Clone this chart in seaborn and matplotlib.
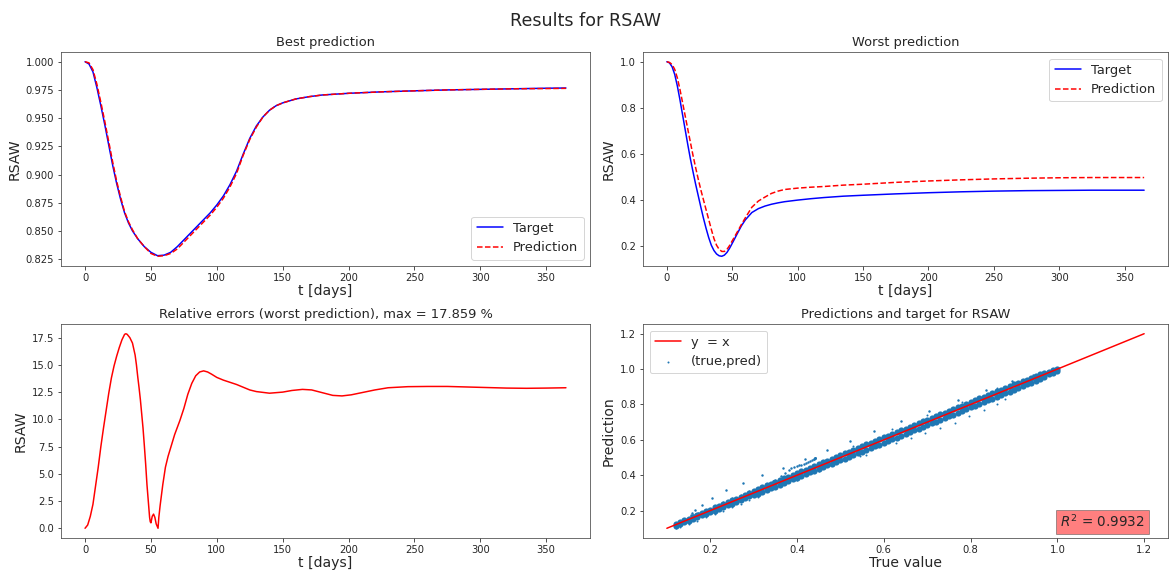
import matplotlib
matplotlib.use("Agg")
import matplotlib.pyplot as plt
import seaborn as sns

# ---------------- data ----------------
t_best = [0, 3, 6, 9, 12, 15, 18, 21, 24, 27, 30, 33, 36, 40, 45, 50, 55, 60, 65, 70,
          75, 80, 85, 90, 95, 100, 105, 110, 115, 120, 125, 130, 135, 140, 145, 150,
          160, 170, 180, 200, 225, 250, 275, 300, 325, 350, 365]
best_target = [1.000, 0.998, 0.991, 0.977, 0.961, 0.944, 0.926, 0.908, 0.892, 0.878,
               0.866, 0.857, 0.850, 0.843, 0.836, 0.831, 0.828, 0.8285, 0.831, 0.836,
               0.842, 0.848, 0.854, 0.860, 0.866, 0.873, 0.881, 0.891, 0.903, 0.918,
               0.932, 0.943, 0.951, 0.957, 0.961, 0.9635, 0.967, 0.969, 0.9705, 0.972,
               0.9733, 0.9742, 0.975, 0.9755, 0.976, 0.9765, 0.9767]
best_pred = [1.000, 0.999, 0.993, 0.980, 0.964, 0.947, 0.929, 0.911, 0.894, 0.880,
             0.867, 0.858, 0.851, 0.843, 0.836, 0.830, 0.8275, 0.828, 0.830, 0.834,
             0.840, 0.846, 0.852, 0.858, 0.864, 0.871, 0.879, 0.889, 0.901, 0.917,
             0.931, 0.942, 0.951, 0.957, 0.961, 0.9635, 0.967, 0.969, 0.9705, 0.972,
             0.9733, 0.9742, 0.975, 0.9755, 0.976, 0.9762, 0.9764]

t_worst = [0, 2, 4, 6, 8, 10, 12, 14, 16, 18, 20, 22, 24, 26, 28, 30, 32, 34, 36, 38,
           40, 42, 44, 46, 48, 51, 54, 57, 60, 65, 70, 75, 80, 85, 90, 100, 110, 120,
           135, 150, 175, 200, 225, 250, 275, 300, 325, 350, 365]
worst_target = [1.000, 0.995, 0.978, 0.945, 0.895, 0.835, 0.770, 0.705, 0.640, 0.578,
                0.522, 0.468, 0.418, 0.368, 0.320, 0.276, 0.236, 0.203, 0.180, 0.165,
                0.157, 0.155, 0.160, 0.172, 0.190, 0.222, 0.255, 0.287, 0.313, 0.345,
                0.362, 0.373, 0.381, 0.387, 0.392, 0.399, 0.405, 0.410, 0.416, 0.420,
                0.426, 0.431, 0.435, 0.438, 0.440, 0.441, 0.442, 0.442, 0.442]
worst_pred = [1.000, 0.997, 0.988, 0.967, 0.930, 0.880, 0.823, 0.765, 0.707, 0.650,
              0.593, 0.540, 0.490, 0.443, 0.400, 0.357, 0.315, 0.272, 0.232, 0.203,
              0.185, 0.176, 0.176, 0.185, 0.202, 0.232, 0.262, 0.293, 0.322, 0.368,
              0.395, 0.412, 0.428, 0.438, 0.445, 0.451, 0.455, 0.458, 0.464, 0.468,
              0.476, 0.482, 0.487, 0.491, 0.494, 0.496, 0.497, 0.497, 0.497]

t_err = [0, 2, 4, 6, 8, 10, 12, 14, 16, 18, 20, 22, 24, 26, 28, 30, 31, 32, 34, 36,
         38, 39, 40, 41, 42, 43, 44, 45, 46, 47, 48, 49, 49.5, 50, 51, 52, 53, 54,
         55.4, 56, 57, 59, 61, 63, 65, 68, 72, 75, 78, 81, 84, 87, 90, 93, 96, 100,
         105, 110, 115, 120, 125, 130, 140, 150, 157, 165, 172, 180, 188, 195, 202,
         210, 220, 230, 245, 260, 275, 290, 305, 320, 335, 350, 365]
rel_err = [0.0, 0.3, 1.1, 2.2, 3.9, 5.6, 7.5, 9.2, 10.8, 12.4, 13.8, 14.9, 15.8, 16.6,
           17.3, 17.8, 17.86, 17.8, 17.5, 17.0, 15.9, 15.0, 13.9, 12.9, 11.8, 10.5,
           9.2, 7.6, 5.9, 4.0, 2.5, 1.0, 0.6, 0.5, 1.1, 1.3, 1.0, 0.4, 0.0, 1.0, 2.1,
           4.0, 5.6, 6.6, 7.4, 8.6, 9.9, 11.0, 12.3, 13.3, 14.0, 14.35, 14.45, 14.35,
           14.15, 13.85, 13.6, 13.4, 13.2, 12.95, 12.7, 12.55, 12.4, 12.5, 12.65,
           12.75, 12.7, 12.45, 12.2, 12.15, 12.25, 12.45, 12.7, 12.9, 13.0, 13.02,
           13.02, 12.97, 12.92, 12.87, 12.85, 12.87, 12.9]

# dense band of (true, pred) points: true values with upper/lower edge predictions
band_true = [0.12, 0.13, 0.14, 0.15, 0.16, 0.17, 0.18, 0.19, 0.20, 0.21, 0.22, 0.23,
             0.24, 0.25, 0.26, 0.27, 0.28, 0.29, 0.30, 0.31, 0.32, 0.33, 0.34, 0.35,
             0.36, 0.37, 0.38, 0.39, 0.40, 0.41, 0.42, 0.43, 0.44, 0.45, 0.46, 0.47,
             0.48, 0.49, 0.50, 0.51, 0.52, 0.53, 0.54, 0.55, 0.56, 0.57, 0.58, 0.59,
             0.60, 0.61, 0.62, 0.63, 0.64, 0.65, 0.66, 0.67, 0.68, 0.69, 0.70, 0.71,
             0.72, 0.73, 0.74, 0.75, 0.76, 0.77, 0.78, 0.79, 0.80, 0.81, 0.82, 0.83,
             0.84, 0.85, 0.86, 0.87, 0.88, 0.89, 0.90, 0.91, 0.92, 0.93, 0.94, 0.95,
             0.96, 0.97, 0.98, 0.99, 1.00]
band_upper = [0.125, 0.135, 0.145, 0.155, 0.165, 0.175, 0.185, 0.195, 0.205, 0.218,
              0.228, 0.238, 0.248, 0.258, 0.268, 0.278, 0.288, 0.298, 0.308, 0.322,
              0.332, 0.342, 0.352, 0.362, 0.372, 0.382, 0.392, 0.402, 0.412, 0.422,
              0.432, 0.442, 0.452, 0.462, 0.472, 0.482, 0.492, 0.502, 0.512, 0.524,
              0.534, 0.544, 0.554, 0.564, 0.574, 0.584, 0.594, 0.604, 0.614, 0.624,
              0.634, 0.644, 0.654, 0.664, 0.674, 0.684, 0.694, 0.704, 0.714, 0.724,
              0.734, 0.744, 0.754, 0.764, 0.774, 0.784, 0.794, 0.804, 0.814, 0.824,
              0.834, 0.844, 0.854, 0.864, 0.874, 0.884, 0.894, 0.904, 0.914, 0.920,
              0.930, 0.940, 0.950, 0.960, 0.970, 0.980, 0.984, 0.994, 1.003]
band_lower = [0.113, 0.123, 0.133, 0.143, 0.153, 0.163, 0.173, 0.183, 0.193, 0.200,
              0.210, 0.220, 0.230, 0.240, 0.250, 0.260, 0.270, 0.280, 0.290, 0.296,
              0.306, 0.316, 0.326, 0.336, 0.346, 0.356, 0.366, 0.376, 0.386, 0.396,
              0.406, 0.416, 0.426, 0.436, 0.446, 0.456, 0.466, 0.476, 0.486, 0.493,
              0.503, 0.513, 0.523, 0.533, 0.543, 0.553, 0.563, 0.573, 0.583, 0.593,
              0.603, 0.613, 0.623, 0.633, 0.643, 0.653, 0.663, 0.673, 0.683, 0.693,
              0.703, 0.713, 0.723, 0.733, 0.743, 0.753, 0.763, 0.773, 0.783, 0.793,
              0.803, 0.813, 0.823, 0.833, 0.843, 0.853, 0.863, 0.873, 0.883, 0.894,
              0.904, 0.914, 0.924, 0.934, 0.944, 0.954, 0.970, 0.980, 0.992]

# sparse outlying points
out_true = [0.155, 0.165, 0.175, 0.185, 0.21, 0.23, 0.25, 0.27, 0.29, 0.31, 0.33,
            0.35, 0.37, 0.12, 0.13, 0.15, 0.17, 0.19, 0.21, 0.23, 0.25, 0.27, 0.29,
            0.31, 0.53, 0.62, 0.70, 0.78, 0.86, 0.545, 0.56, 0.629, 0.662, 0.696,
            0.729, 0.763, 0.797, 0.830, 0.86, 0.88, 0.40, 0.45]
out_pred = [0.172, 0.178, 0.186, 0.194, 0.228, 0.250, 0.270, 0.290, 0.310, 0.330,
            0.352, 0.372, 0.390, 0.100, 0.108, 0.125, 0.143, 0.162, 0.181, 0.200,
            0.219, 0.238, 0.258, 0.277, 0.565, 0.660, 0.740, 0.815, 0.895, 0.510,
            0.515, 0.582, 0.610, 0.639, 0.667, 0.695, 0.733, 0.771, 0.800, 0.830,
            0.375, 0.425]

identity_x = [0.1, 1.2]
identity_y = [0.1, 1.2]
r2_value = 0.9932
max_err = 17.859
var_name = "RSAW"

# ---------------- figure ----------------
sns.set_style("ticks")
plt.rcParams['font.family'] = ['DejaVu Sans']
plt.rcParams['axes.edgecolor'] = '.3'
W, H = 1170, 570
fig = plt.figure(figsize=(W / 72, H / 72), dpi=72)

def rect(x0, y0, x1, y1):
    return [x0 / W, 1 - y1 / H, (x1 - x0) / W, (y1 - y0) / H]

ax1 = fig.add_axes(rect(61, 52, 590, 266))
ax2 = fig.add_axes(rect(643, 52, 1168, 266))
ax3 = fig.add_axes(rect(61, 324, 590, 538))
ax4 = fig.add_axes(rect(643, 324, 1168, 538))

lab_fs = 14
title_fs = 13
leg_fs = 13
blue_pt = '#1f77b4'

# Best prediction
sns.lineplot(x=t_best, y=best_target, ax=ax1, color='b', linewidth=1.5, label='Target')
sns.lineplot(x=t_best, y=best_pred, ax=ax1, color='r', linewidth=1.5,
             linestyle='--', label='Prediction')
ax1.set_title('Best prediction', fontsize=title_fs)
ax1.set_ylabel(var_name, fontsize=lab_fs)
ax1.legend(loc='lower right', fontsize=leg_fs)

# Worst prediction
sns.lineplot(x=t_worst, y=worst_target, ax=ax2, color='b', linewidth=1.5, label='Target')
sns.lineplot(x=t_worst, y=worst_pred, ax=ax2, color='r', linewidth=1.5,
             linestyle='--', label='Prediction')
ax2.set_title('Worst prediction', fontsize=title_fs)
ax2.set_ylabel(var_name, fontsize=lab_fs)
ax2.legend(loc='upper right', fontsize=leg_fs)

# Relative errors
sns.lineplot(x=t_err, y=rel_err, ax=ax3, color='r', linewidth=1.5)
ax3.set_title(f'Relative errors (worst prediction), max = {max_err:.3f} %', fontsize=title_fs)
ax3.set_ylabel(var_name, fontsize=lab_fs)

# Predictions vs target
sns.lineplot(x=identity_x, y=identity_y, ax=ax4, color='r', linewidth=1.5, label='y  = x')
sns.scatterplot(x=band_true, y=band_upper, ax=ax4, s=38, color=blue_pt,
                linewidth=0, label='(true,pred)')
sns.scatterplot(x=band_true, y=band_lower, ax=ax4, s=38, color=blue_pt, linewidth=0)
sns.scatterplot(x=best_target, y=best_pred, ax=ax4, s=5, color=blue_pt, linewidth=0)
sns.scatterplot(x=worst_target, y=worst_pred, ax=ax4, s=6, color=blue_pt, linewidth=0)
sns.scatterplot(x=out_true, y=out_pred, ax=ax4, s=4, color=blue_pt, linewidth=0)
ax4.lines[0].set_zorder(5)
ax4.set_title(f'Predictions and target for {var_name}', fontsize=title_fs)
ax4.set_ylabel('Prediction', fontsize=lab_fs)
leg = ax4.legend(loc='upper left', fontsize=leg_fs)
try:
    leg.legend_handles[1].set_sizes([4])
except Exception:
    pass
ax4.text(0.795, 0.05, f'$R^2$ = {r2_value}', transform=ax4.transAxes, fontsize=13.5,
         bbox=dict(facecolor='red', alpha=0.5, edgecolor='.3'))

for ax in (ax1, ax2, ax3):
    ax.set_xlabel('t [days]', fontsize=lab_fs, labelpad=1)
ax4.set_xlabel('True value', fontsize=lab_fs, labelpad=1)

for ax in (ax1, ax2, ax3, ax4):
    ax.tick_params(labelsize=10, length=3.5)

fig.suptitle(f'Results for {var_name}', fontsize=17.5, y=1 - 21 / H, va='center')
fig.savefig('out.png', dpi=72)
